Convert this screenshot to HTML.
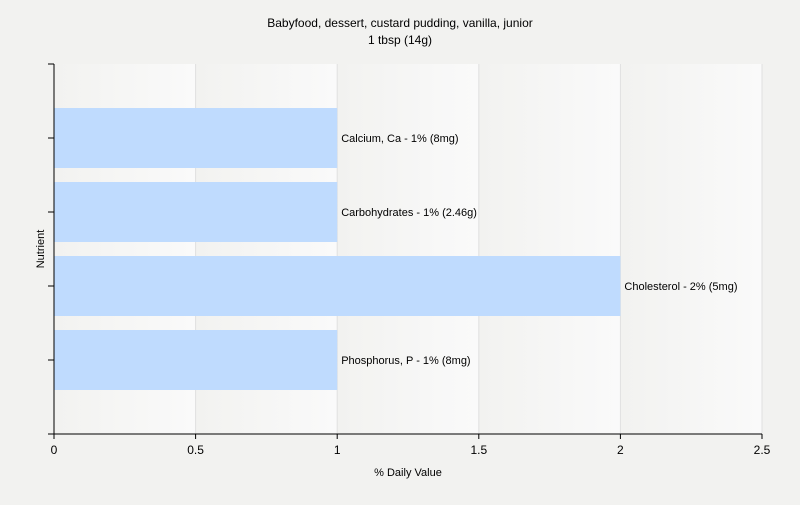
<!DOCTYPE html>
<html><head><meta charset="utf-8"><style>
body{margin:0;background:#f2f2f0;font-family:"Liberation Sans",sans-serif;}
svg text{font-family:"Liberation Sans",sans-serif;}
</style></head><body>
<svg width="800" height="500" xmlns="http://www.w3.org/2000/svg">
<defs><linearGradient id="g" x1="0" x2="1" y1="0" y2="0"><stop offset="0" stop-color="#f2f2f0"/><stop offset="1" stop-color="#fafafa"/></linearGradient></defs>
<rect width="800" height="500" fill="#f2f2f0"/>
<text x="400" y="27" text-anchor="middle" font-size="12" fill="#000">Babyfood, dessert, custard pudding, vanilla, junior</text>
<text x="400" y="44" text-anchor="middle" font-size="12" fill="#000">1 tbsp (14g)</text>
<g id="plot"></g>
<text x="408" y="476" text-anchor="middle" font-size="11">% Daily Value</text>
<text x="44" y="249" text-anchor="middle" font-size="11" transform="rotate(-90 44 249)">Nutrient</text>
</svg>
<script>
const categories=["Calcium, Ca","Carbohydrates","Cholesterol","Phosphorus, P"];
const values=[1,1,2,1];
const labels=["Calcium, Ca - 1% (8mg)","Carbohydrates - 1% (2.46g)","Cholesterol - 2% (5mg)","Phosphorus, P - 1% (8mg)"];
const xTicks=[0,0.5,1,1.5,2,2.5];
const xTickLabels=["0","0.5","1","1.5","2","2.5"];
const NS="http://www.w3.org/2000/svg";
const g=document.getElementById("plot");
const X0=54,X1=762,Y0=64,Y1=434,xMax=2.5;
const x=v=>X0+(X1-X0)*v/xMax;
const band=(Y1-Y0)/(categories.length+1);
const yc=i=>Y0+band*(i+1);
function mk(t,a){const e=document.createElementNS(NS,t);for(const k in a)e.setAttribute(k,a[k]);g.appendChild(e);return e;}
for(let i=0;i<xTicks.length-1;i++){
 const r=mk("rect",{x:x(xTicks[i]),y:Y0,width:x(xTicks[i+1])-x(xTicks[i]),height:Y1-Y0,fill:"url(#g)"});
 
 
}
xTicks.forEach((t,i)=>{
 if(i>0){const l=mk("line",{x1:x(t),x2:x(t),y1:Y0,y2:Y1,stroke:"#e0e0e0"});
 
 }
 const tk=mk("line",{x1:x(t),x2:x(t),y1:Y1,y2:Y1+5,stroke:"#000"});
 
 
 const tx=mk("text",{x:x(t),y:Y1+20,"text-anchor":"middle","font-size":12});
 tx.textContent=xTickLabels[i];
 
 
});
categories.forEach((c,i)=>{
 const r=mk("rect",{x:X0,y:yc(i)-30,width:x(values[i])-X0,height:60,fill:"#bfdbfe"});
 
 
 const t=mk("text",{x:x(values[i])+4,y:yc(i)+4,"font-size":11});
 t.textContent=labels[i];
 
 
});
for(let i=0;i<=categories.length+1;i++){
 const tk=mk("line",{x1:X0-6,x2:X0,y1:Y0+band*i,y2:Y0+band*i,stroke:"#000"});
 
 
}
const ya=mk("line",{x1:X0,x2:X0,y1:Y0,y2:Y1,stroke:"#000"});


const xa=mk("line",{x1:X0,x2:X1,y1:Y1,y2:Y1,stroke:"#000"});


</script>
</body></html>
